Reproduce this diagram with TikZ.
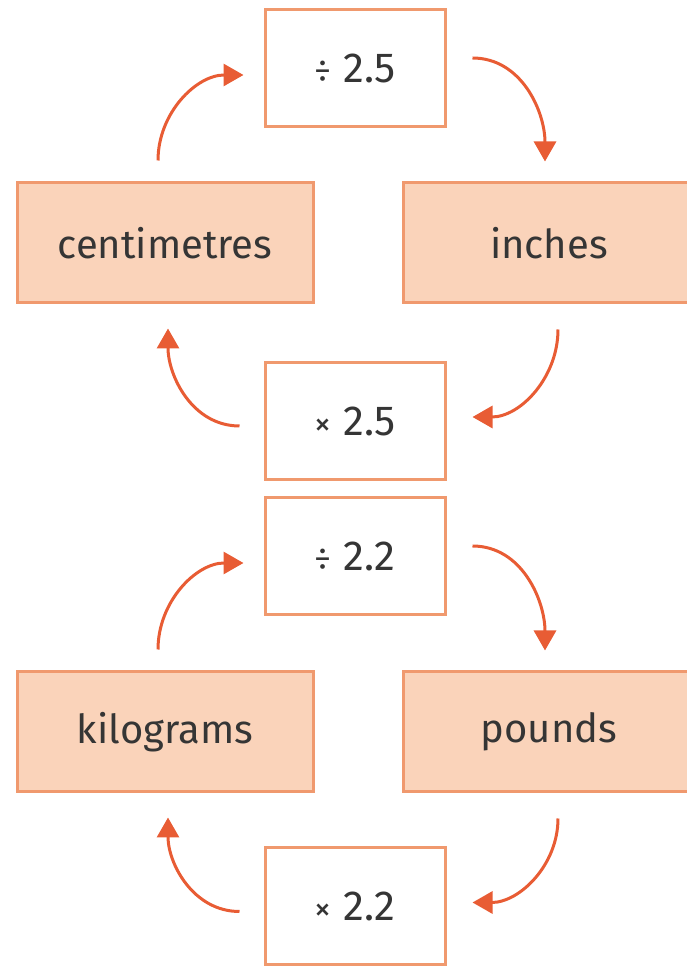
\documentclass[tikz,border=0pt]{standalone}
\usepackage{fontspec}
\setmainfont{Fira Sans}
\usetikzlibrary{arrows.meta}
\definecolor{boxline}{HTML}{F0996E}
\definecolor{boxfill}{HTML}{FAD3BA}
\definecolor{arrowc}{HTML}{E85C34}
\definecolor{txt}{HTML}{353535}
\newcommand{\opsym}[1]{{\fontsize{34}{34}\selectfont #1}\hspace{12pt}}
\tikzset{
  opbox/.style={draw=boxline, line width=3pt, fill=white, minimum width=180pt, minimum height=117pt, inner sep=0pt, text=txt, font=\fontsize{42}{46}\selectfont},
  unitbox/.style={draw=boxline, line width=3pt, fill=boxfill, minimum height=120pt, inner sep=0pt, text=txt, font=\fontsize{40}{44}\selectfont},
  arr/.style={draw=arrowc, line width=3pt, -{Triangle[length=20pt,width=22pt]}},
}
\begin{document}
\begin{tikzpicture}[x=1pt,y=1pt]
\useasboundingbox (0,0) rectangle (687,967);
% top group
\node[opbox] (d1) at (355,898.5) {\opsym{÷}2.5};
\node[unitbox, minimum width=296pt] (cm) at (165,724) {centimetres};
\node[unitbox, minimum width=292pt] (in) at (549,724) {inches};
\node[opbox] (m1) at (355,546) {\opsym{×}2.5};
\draw[arr] ([shift={(-7pt,21pt)}]cm.north) to[out=90,in=180] ([shift={(-20pt,-6.5pt)}]d1.west);
\draw[arr] ([shift={(26pt,10.5pt)}]d1.east) to[out=0,in=90] ([shift={(-4pt,20pt)}]in.north);
\draw[arr] ([shift={(9pt,-25pt)}]in.south) to[out=-90,in=0] ([shift={(26pt,4pt)}]m1.east);
\draw[arr] ([shift={(-24pt,-5pt)}]m1.west) to[out=180,in=-90] ([shift={(3pt,-24pt)}]cm.south);
% bottom group
\node[opbox] (d2) at (355,410.5) {\opsym{÷}2.2};
\node[unitbox, minimum width=296pt] (kg) at (165,235) {kilograms};
\node[unitbox, minimum width=292pt] (lb) at (549,235) {pounds};
\node[opbox] (m2) at (355,60.5) {\opsym{×}2.2};
\draw[arr] ([shift={(-7pt,21pt)}]kg.north) to[out=90,in=180] ([shift={(-20pt,-6.5pt)}]d2.west);
\draw[arr] ([shift={(26pt,10.5pt)}]d2.east) to[out=0,in=90] ([shift={(-4pt,20pt)}]lb.north);
\draw[arr] ([shift={(9pt,-25pt)}]lb.south) to[out=-90,in=0] ([shift={(26pt,4pt)}]m2.east);
\draw[arr] ([shift={(-24pt,-5pt)}]m2.west) to[out=180,in=-90] ([shift={(3pt,-24pt)}]kg.south);
\end{tikzpicture}
\end{document}
